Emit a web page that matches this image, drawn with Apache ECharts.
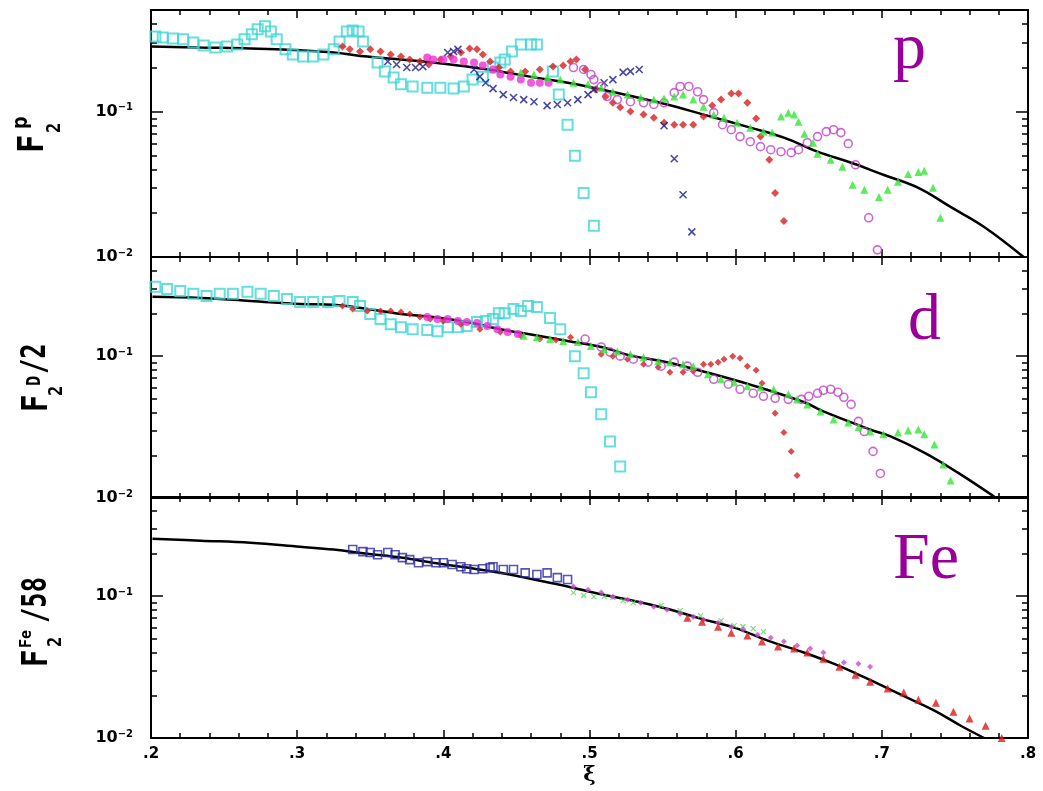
<!DOCTYPE html>
<html>
<head>
<meta charset="utf-8">
<script src="https://cdn.jsdelivr.net/npm/echarts@6.0.0/dist/echarts.min.js"></script>
<style>
html, body { margin: 0; padding: 0; background: #fff; }
#chart { width: 1043px; height: 791px; }
</style>
</head>
<body>
<div id="chart"></div>
<script>
// ---- data: [xi, F2] ----
// proton panel
const pFit = [[0.200,0.281],[0.234,0.276],[0.268,0.272],[0.302,0.264],[0.325,0.255],[0.348,0.239],[0.371,0.228],[0.393,0.218],[0.416,0.204],[0.439,0.189],[0.462,0.172],[0.485,0.158],[0.508,0.142],[0.530,0.127],[0.553,0.112],[0.578,0.0954],[0.610,0.0776],[0.633,0.0662],[0.656,0.0530],[0.679,0.0445],[0.701,0.0368],[0.725,0.0299],[0.747,0.0221],[0.770,0.0161],[0.797,0.0100]];
const pCyan = [[0.203,0.329],[0.208,0.324],[0.215,0.319],[0.222,0.314],[0.229,0.299],[0.236,0.285],[0.244,0.276],[0.252,0.281],[0.259,0.290],[0.264,0.314],[0.269,0.340],[0.273,0.368],[0.278,0.386],[0.282,0.356],[0.286,0.314],[0.292,0.268],[0.297,0.247],[0.304,0.239],[0.311,0.239],[0.318,0.247],[0.325,0.268],[0.329,0.304],[0.334,0.356],[0.338,0.362],[0.342,0.356],[0.345,0.304],[0.355,0.218],[0.360,0.189],[0.366,0.172],[0.371,0.154],[0.379,0.149],[0.389,0.146],[0.398,0.146],[0.407,0.144],[0.414,0.149],[0.420,0.166],[0.427,0.174],[0.434,0.201],[0.439,0.218],[0.442,0.228],[0.447,0.259],[0.453,0.290],[0.460,0.290],[0.464,0.290],[0.475,0.189],[0.479,0.131],[0.485,0.0813],[0.490,0.0497],[0.496,0.0276],[0.503,0.0164]];
const pRed = [[0.331,0.281],[0.336,0.268],[0.343,0.259],[0.350,0.268],[0.357,0.259],[0.364,0.247],[0.371,0.239],[0.377,0.228],[0.384,0.221],[0.390,0.211],[0.398,0.228],[0.405,0.239],[0.412,0.255],[0.418,0.272],[0.423,0.268],[0.427,0.247],[0.432,0.221],[0.438,0.201],[0.446,0.189],[0.456,0.189],[0.466,0.195],[0.475,0.204],[0.482,0.208],[0.487,0.221],[0.491,0.228],[0.497,0.195],[0.504,0.142],[0.511,0.127],[0.516,0.115],[0.521,0.107],[0.528,0.100],[0.537,0.0954],[0.544,0.0909],[0.551,0.0840],[0.558,0.0813],[0.564,0.0813],[0.571,0.0813],[0.578,0.0924],[0.584,0.110],[0.590,0.121],[0.597,0.133],[0.602,0.133],[0.608,0.115],[0.614,0.0895],[0.617,0.0673],[0.623,0.0467],[0.627,0.0276],[0.633,0.0177]];
const pNavy = [[0.362,0.221],[0.368,0.211],[0.375,0.201],[0.381,0.201],[0.386,0.204],[0.403,0.255],[0.407,0.259],[0.410,0.268],[0.421,0.195],[0.425,0.174],[0.429,0.158],[0.434,0.144],[0.441,0.131],[0.448,0.125],[0.455,0.121],[0.462,0.117],[0.471,0.110],[0.478,0.112],[0.485,0.115],[0.492,0.121],[0.499,0.131],[0.503,0.142],[0.510,0.158],[0.516,0.166],[0.523,0.186],[0.528,0.189],[0.534,0.195],[0.551,0.0800],[0.558,0.0474],[0.564,0.0268],[0.570,0.0149]];
const pMag = [[0.389,0.236],[0.393,0.228],[0.400,0.228],[0.407,0.228],[0.414,0.221],[0.421,0.218],[0.427,0.208],[0.434,0.195],[0.439,0.180],[0.446,0.174],[0.453,0.166],[0.460,0.158],[0.466,0.158],[0.472,0.158]];
const pPurple = [[0.489,0.201],[0.496,0.195],[0.501,0.180],[0.503,0.166],[0.508,0.149],[0.512,0.127],[0.519,0.121],[0.528,0.117],[0.537,0.115],[0.544,0.112],[0.551,0.115],[0.558,0.135],[0.562,0.149],[0.568,0.149],[0.574,0.137],[0.578,0.121],[0.585,0.0984],[0.591,0.0813],[0.597,0.0751],[0.603,0.0673],[0.610,0.0621],[0.617,0.0574],[0.624,0.0547],[0.631,0.0530],[0.638,0.0522],[0.643,0.0547],[0.649,0.0611],[0.656,0.0673],[0.662,0.0728],[0.667,0.0751],[0.672,0.0717],[0.677,0.0602],[0.682,0.0431],[0.691,0.0186],[0.697,0.0112]];
const pGreen = [[0.453,0.186],[0.462,0.180],[0.471,0.172],[0.480,0.166],[0.489,0.158],[0.499,0.154],[0.508,0.146],[0.516,0.137],[0.526,0.131],[0.535,0.125],[0.544,0.121],[0.551,0.123],[0.558,0.127],[0.564,0.131],[0.571,0.121],[0.578,0.108],[0.585,0.0954],[0.592,0.0909],[0.601,0.0840],[0.610,0.0776],[0.619,0.0728],[0.625,0.0717],[0.631,0.0924],[0.636,0.0984],[0.640,0.0954],[0.643,0.0853],[0.647,0.0705],[0.653,0.0611],[0.656,0.0513],[0.665,0.0467],[0.673,0.0418],[0.680,0.0314],[0.688,0.0290],[0.698,0.0259],[0.704,0.0290],[0.711,0.0329],[0.718,0.0373],[0.725,0.0385],[0.729,0.0392],[0.735,0.0299],[0.740,0.0186]];

// deuteron panel
const dFit = [[0.201,0.262],[0.234,0.257],[0.268,0.245],[0.302,0.233],[0.325,0.230],[0.348,0.215],[0.371,0.198],[0.393,0.189],[0.416,0.174],[0.439,0.155],[0.462,0.141],[0.485,0.128],[0.508,0.116],[0.530,0.100],[0.553,0.0907],[0.576,0.0790],[0.610,0.0630],[0.647,0.0473],[0.660,0.0408],[0.692,0.0304],[0.706,0.0272],[0.729,0.0209],[0.752,0.0151],[0.777,0.0102]];
const dCyan = [[0.203,0.308],[0.211,0.298],[0.220,0.288],[0.229,0.275],[0.238,0.266],[0.247,0.275],[0.256,0.275],[0.266,0.284],[0.275,0.275],[0.284,0.266],[0.293,0.253],[0.302,0.241],[0.311,0.241],[0.321,0.241],[0.329,0.245],[0.338,0.241],[0.343,0.226],[0.350,0.198],[0.357,0.183],[0.364,0.168],[0.371,0.160],[0.379,0.155],[0.389,0.153],[0.396,0.150],[0.403,0.160],[0.410,0.160],[0.416,0.163],[0.423,0.174],[0.429,0.177],[0.434,0.183],[0.438,0.201],[0.442,0.201],[0.448,0.215],[0.453,0.208],[0.458,0.226],[0.464,0.222],[0.473,0.186],[0.480,0.155],[0.490,0.100],[0.496,0.0758],[0.501,0.0556],[0.508,0.0389],[0.514,0.0250],[0.521,0.0167]];
const dRed = [[0.331,0.226],[0.338,0.215],[0.348,0.208],[0.357,0.208],[0.364,0.208],[0.371,0.205],[0.377,0.198],[0.384,0.189],[0.391,0.183],[0.400,0.177],[0.412,0.168],[0.425,0.155],[0.439,0.148],[0.453,0.139],[0.466,0.132],[0.477,0.130],[0.487,0.136],[0.508,0.103],[0.516,0.100],[0.526,0.0952],[0.537,0.0878],[0.547,0.0836],[0.555,0.0770],[0.564,0.0770],[0.571,0.0783],[0.578,0.0878],[0.583,0.0878],[0.588,0.0907],[0.592,0.0952],[0.598,0.100],[0.603,0.0968],[0.608,0.0850],[0.614,0.0796],[0.618,0.0644],[0.627,0.0395],[0.633,0.0290],[0.638,0.0213],[0.642,0.0144]];
const dMag = [[0.389,0.189],[0.396,0.183],[0.403,0.183],[0.410,0.177],[0.416,0.174],[0.423,0.171],[0.430,0.163],[0.437,0.155],[0.444,0.148],[0.451,0.143]];
const dPurple = [[0.497,0.132],[0.508,0.116],[0.514,0.107],[0.521,0.100],[0.530,0.0952],[0.540,0.0907],[0.549,0.0850],[0.558,0.0907],[0.567,0.0850],[0.574,0.0770],[0.585,0.0687],[0.595,0.0634],[0.603,0.0584],[0.612,0.0547],[0.619,0.0521],[0.627,0.0505],[0.636,0.0496],[0.645,0.0496],[0.650,0.0521],[0.656,0.0547],[0.660,0.0575],[0.665,0.0584],[0.670,0.0556],[0.674,0.0513],[0.679,0.0457],[0.684,0.0347],[0.688,0.0294],[0.694,0.0213],[0.699,0.0149]];
const dGreen = [[0.455,0.139],[0.464,0.136],[0.473,0.132],[0.482,0.128],[0.492,0.126],[0.501,0.118],[0.510,0.112],[0.519,0.108],[0.528,0.103],[0.537,0.0984],[0.547,0.0922],[0.555,0.0907],[0.564,0.0878],[0.571,0.0850],[0.581,0.0746],[0.590,0.0687],[0.599,0.0655],[0.608,0.0613],[0.617,0.0604],[0.626,0.0584],[0.636,0.0538],[0.642,0.0496],[0.649,0.0457],[0.658,0.0408],[0.667,0.0358],[0.677,0.0341],[0.684,0.0315],[0.692,0.0294],[0.701,0.0281],[0.711,0.0290],[0.718,0.0299],[0.725,0.0304],[0.729,0.0281],[0.736,0.0238],[0.742,0.0172],[0.747,0.0133]];

// iron panel
const fFit = [[0.201,0.254],[0.234,0.246],[0.268,0.238],[0.302,0.223],[0.325,0.213],[0.348,0.199],[0.371,0.187],[0.393,0.172],[0.416,0.159],[0.439,0.146],[0.462,0.131],[0.485,0.117],[0.508,0.103],[0.530,0.0929],[0.553,0.0816],[0.576,0.0694],[0.599,0.0600],[0.622,0.0486],[0.645,0.0406],[0.667,0.0334],[0.690,0.0262],[0.713,0.0202],[0.736,0.0156],[0.754,0.0122],[0.770,0.0100]];
const fBlue = [[0.338,0.213],[0.345,0.206],[0.350,0.203],[0.355,0.196],[0.362,0.203],[0.367,0.196],[0.372,0.187],[0.377,0.181],[0.383,0.172],[0.389,0.175],[0.395,0.172],[0.400,0.172],[0.406,0.167],[0.412,0.161],[0.416,0.156],[0.421,0.154],[0.427,0.156],[0.432,0.159],[0.434,0.161],[0.441,0.154],[0.448,0.154],[0.456,0.146],[0.464,0.142],[0.471,0.146],[0.478,0.135],[0.485,0.131]];
const fGreen = [[0.489,0.106],[0.496,0.101],[0.503,0.0992],[0.510,0.0992],[0.516,0.0976],[0.523,0.0929],[0.530,0.0900],[0.549,0.0857],[0.562,0.0791],[0.576,0.0729],[0.590,0.0672],[0.599,0.0619],[0.605,0.0609],[0.612,0.0590],[0.619,0.0562]];
const fMag = [[0.489,0.117],[0.499,0.111],[0.508,0.106],[0.516,0.0992],[0.526,0.0945],[0.535,0.0900],[0.544,0.0843],[0.553,0.0803],[0.562,0.0753],[0.571,0.0717],[0.578,0.0683],[0.588,0.0650],[0.597,0.0609],[0.605,0.0581],[0.615,0.0535],[0.624,0.0510],[0.633,0.0478],[0.642,0.0448],[0.651,0.0427],[0.660,0.0400],[0.674,0.0340],[0.684,0.0334],[0.692,0.0318]];
const fRed = [[0.567,0.0705],[0.577,0.0661],[0.588,0.0609],[0.597,0.0553],[0.608,0.0527],[0.618,0.0478],[0.629,0.0441],[0.640,0.0427],[0.649,0.0400],[0.660,0.0362],[0.671,0.0318],[0.682,0.0279],[0.692,0.0249],[0.704,0.0223],[0.715,0.0209],[0.725,0.0186],[0.737,0.0177],[0.749,0.0153],[0.760,0.0137],[0.771,0.0122],[0.782,0.0100]];

// tick positions
const yLabelTicks = [0.01, 0.1];
const yMajorTicks = [0.1];
const yMinorTicks = [0.02, 0.03, 0.04, 0.05, 0.06, 0.07, 0.08, 0.09, 0.2, 0.3, 0.4];

const chart = echarts.init(document.getElementById('chart'));

const grids = [
    { left: 151, right: 15, top: 10, height: 247 },
    { left: 151, right: 15, top: 257, height: 241 },
    { left: 151, right: 15, top: 497, height: 241 }
].map(g => Object.assign(g, { outerBoundsMode: 'none' }));

const tickFont = 'DejaVu Sans';
const black = '#000';

let xAxes = [];
let yAxes = [];
grids.forEach((g, i) => {
    ['bottom', 'top'].forEach(pos => {
        const withLabel = i === 2 && pos === 'bottom';
        xAxes.push({
            type: 'value', gridIndex: i, position: pos,
            min: 0.2, max: 0.8, interval: 0.1,
            axisLine: { show: true, onZero: false, lineStyle: { color: black, width: 2 } },
            axisTick: { show: true, inside: true, length: 8, lineStyle: { color: black, width: 1.5 } },
            minorTick: { show: true, splitNumber: 5, length: 5, lineStyle: { color: black, width: 1.5 } },
            splitLine: { show: false },
            axisLabel: withLabel ? {
                show: true, margin: 9, color: black, fontSize: 15, fontWeight: 'bold', fontFamily: tickFont,
                formatter: v => '.' + Math.round(v * 10)
            } : { show: false },
            name: withLabel ? 'ξ' : '',
            nameLocation: 'middle', nameGap: 27, nameMoveOverlap: false,
            nameTextStyle: { color: black, fontSize: 21, fontWeight: 'bold', fontFamily: 'DejaVu Serif' }
        });
    });
    ['left', 'right'].forEach(pos => {
        // major ticks + labels
        yAxes.push({
            type: 'log', logBase: 10, gridIndex: i, position: pos, min: 0.01, max: 0.5,
            axisLine: { show: true, lineStyle: { color: black, width: 2 } },
            axisTick: { show: true, inside: true, length: 12, customValues: yMajorTicks, lineStyle: { color: black, width: 1.5 } },
            splitLine: { show: false },
            axisLabel: pos === 'left' ? {
                show: true, margin: 18, customValues: yLabelTicks,
                formatter: v => '{b|10}{s|' + (v < 0.05 ? '−2' : '−1') + '}',
                rich: {
                    b: { fontSize: 16, fontWeight: 'bold', fontFamily: tickFont, color: black, lineHeight: 18 },
                    s: { fontSize: 10, fontWeight: 'bold', fontFamily: tickFont, color: black, lineHeight: 9, verticalAlign: 'top' }
                }
            } : { show: false }
        });
        // minor ticks
        yAxes.push({
            type: 'log', logBase: 10, gridIndex: i, position: pos, min: 0.01, max: 0.5,
            axisLine: { show: false },
            axisTick: { show: true, inside: true, length: 6, customValues: yMinorTicks, lineStyle: { color: black, width: 1.5 } },
            splitLine: { show: false },
            axisLabel: { show: false }
        });
    });
});

function fit(i, data) {
    return {
        type: 'line', xAxisIndex: i * 2, yAxisIndex: i * 4, data: data,
        showSymbol: false, smooth: 0.4, z: 1,
        lineStyle: { color: black, width: 2.5 }
    };
}
function pts(i, data, symbol, size, style, z) {
    return {
        type: 'scatter', xAxisIndex: i * 2, yAxisIndex: i * 4, data: data,
        symbol: symbol, symbolSize: size, itemStyle: style, z: z || 2
    };
}
const open = (c, w) => ({ color: 'rgba(0,0,0,0)', borderColor: c, borderWidth: w || 1.5 });
const cross = 'path://M0,0L10,10M10,0L0,10';

const series = [
    fit(0, pFit),
    pts(0, pCyan, 'rect', 10, open('#3ed6d6', 2), 2),
    pts(0, pRed, 'diamond', 8, { color: '#d42020' }, 3),
    pts(0, pNavy, cross, 7, open('#1c1c8c', 1.6), 3),
    pts(0, pMag, 'circle', 8, { color: '#ee30d6' }, 4),
    pts(0, pPurple, 'circle', 8, open('#c040c8', 1.6), 4),
    pts(0, pGreen, 'triangle', 8, { color: '#33e633' }, 5),

    fit(1, dFit),
    pts(1, dCyan, 'rect', 10, open('#3ed6d6', 2), 2),
    pts(1, dRed, 'diamond', 7, { color: '#d42020' }, 3),
    pts(1, dMag, 'circle', 8, { color: '#ee30d6' }, 4),
    pts(1, dPurple, 'circle', 8, open('#c040c8', 1.6), 4),
    pts(1, dGreen, 'triangle', 8, { color: '#33e633' }, 5),

    fit(2, fFit),
    pts(2, fBlue, 'rect', 8, open('#2a2aa0', 1.6), 3),
    pts(2, fGreen, cross, 5, open('#55d855', 1.2), 3),
    pts(2, fMag, 'diamond', 6, { color: '#c84ad0' }, 4),
    pts(2, fRed, 'triangle', 8, { color: '#dd1a1a' }, 5)
];

// rotated y-axis titles
const titleFont = 'DejaVu Sans Mono';
function part(lx, ly, text, size, sx) {
    return {
        type: 'text', x: lx, y: ly, scaleX: sx || 1,
        style: { text: text, fill: black, align: 'left', verticalAlign: 'middle',
                 font: 'bold ' + size + 'px "' + titleFont + '"' }
    };
}
function title(gy, parts) {
    return { type: 'group', x: 0, y: gy, rotation: Math.PI / 2, children: parts };
}
const purple = '#990099';
function tag(x, y, text) {
    return {
        type: 'text', x: x, y: y,
        style: { text: text, fill: purple, align: 'left', verticalAlign: 'middle',
                 font: '66px "Liberation Serif"' }
    };
}

const graphic = [
    title(153, [part(0, 33.5, 'F', 36, 0.85), part(20, 55, '2', 19, 0.9), part(24, 22, 'p', 21)]),
    title(412, [part(0, 37.5, 'F', 36, 0.8), part(16, 57, '2', 19, 0.9), part(26, 35.5, 'D', 19, 0.9), part(38, 36, '/2', 34, 0.75)]),
    title(667, [part(0, 37.5, 'F', 36, 0.8), part(20, 56, '2', 19, 0.9), part(19, 27, 'Fe', 15), part(44, 37, '/58', 34, 0.75)]),
    tag(893, 51, 'p'),
    tag(908, 322, 'd'),
    tag(893, 561, 'Fe')
];

chart.setOption({
    backgroundColor: '#fff',
    animation: false,
    grid: grids,
    xAxis: xAxes,
    yAxis: yAxes,
    series: series,
    graphic: graphic
});
window.onresize = function () { chart.resize(); };
</script>
</body>
</html>
